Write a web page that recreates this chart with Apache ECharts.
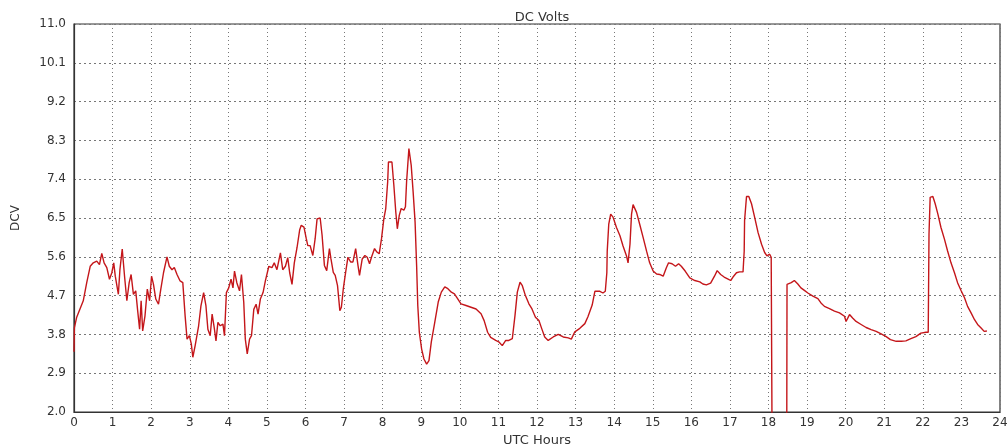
<!DOCTYPE html>
<html>
<head>
<meta charset="utf-8">
<script src="https://cdn.jsdelivr.net/npm/echarts@6/dist/echarts.min.js"></script>
<style>
html,body{margin:0;padding:0;background:#fff;}
#chart{width:1008px;height:448px;}
</style>
</head>
<body>
<div id="chart"></div>
<script>
// UTC hour of each reading
const hours = [
  0.00,0.01,0.07,0.24,0.33,0.42,0.50,0.59,0.66,0.72,0.78,0.85,0.92,0.98,1.03,1.07,1.15,1.19,1.25,1.31,
  1.37,1.43,1.48,1.54,1.60,1.65,1.70,1.74,1.78,1.84,1.90,1.96,2.01,2.06,2.12,2.19,2.25,2.32,2.41,2.47,
  2.54,2.60,2.67,2.75,2.82,2.88,2.93,2.99,3.04,3.08,3.14,3.23,3.29,3.36,3.42,3.47,3.53,3.58,3.64,3.68,
  3.73,3.79,3.86,3.90,3.95,4.01,4.07,4.12,4.16,4.22,4.29,4.34,4.40,4.44,4.49,4.55,4.60,4.66,4.72,4.77,
  4.83,4.90,4.96,5.05,5.13,5.19,5.26,5.35,5.41,5.48,5.54,5.59,5.65,5.71,5.78,5.85,5.89,5.96,6.02,6.06,
  6.12,6.19,6.25,6.30,6.38,6.43,6.49,6.55,6.62,6.66,6.72,6.77,6.83,6.89,6.93,6.98,7.04,7.10,7.17,7.23,
  7.30,7.36,7.40,7.47,7.54,7.60,7.66,7.71,7.79,7.85,7.91,7.97,8.03,8.08,8.13,8.15,8.24,8.29,8.34,8.38,
  8.43,8.48,8.55,8.59,8.62,8.68,8.74,8.79,8.84,8.88,8.91,8.95,9.01,9.07,9.14,9.20,9.26,9.35,9.44,9.52,
  9.61,9.69,9.78,9.86,9.95,10.03,10.16,10.29,10.42,10.55,10.63,10.72,10.80,10.93,11.02,11.10,11.19,11.27,11.36,11.43,
  11.49,11.56,11.62,11.70,11.79,11.87,11.96,12.05,12.12,12.20,12.29,12.42,12.55,12.68,12.81,12.89,12.98,13.11,13.24,13.32,
  13.37,13.43,13.50,13.63,13.71,13.77,13.81,13.82,13.86,13.91,13.97,14.06,14.15,14.23,14.32,14.36,14.41,14.45,14.49,14.58,
  14.66,14.75,14.84,14.92,15.01,15.10,15.18,15.27,15.35,15.41,15.50,15.59,15.67,15.74,15.84,15.96,16.09,16.22,16.30,16.39,
  16.50,16.60,16.67,16.76,16.85,16.94,17.02,17.08,17.17,17.25,17.34,17.37,17.38,17.43,17.49,17.56,17.64,17.73,17.82,17.90,
  17.96,18.03,18.07,18.09,18.10,18.47,18.48,18.59,18.67,18.76,18.84,18.93,19.02,19.15,19.28,19.36,19.45,19.58,19.71,19.84,
  19.97,20.01,20.10,20.18,20.27,20.40,20.53,20.66,20.79,20.92,21.05,21.16,21.31,21.44,21.56,21.69,21.82,21.95,22.08,22.14,
  22.16,22.19,22.26,22.32,22.39,22.47,22.56,22.64,22.73,22.82,22.90,22.99,23.08,23.16,23.25,23.34,23.42,23.51,23.59,23.66
];
// DC volts at each reading
const volts = [
  3.40,3.95,4.20,4.58,5.00,5.38,5.46,5.50,5.42,5.68,5.46,5.35,5.08,5.23,5.46,5.15,4.73,5.30,5.78,5.15,
  4.58,5.00,5.19,4.73,4.81,4.35,3.92,4.58,3.88,4.23,4.85,4.58,5.15,4.96,4.62,4.50,4.85,5.23,5.60,5.38,
  5.30,5.35,5.19,5.04,5.00,4.23,3.69,3.77,3.58,3.27,3.54,4.00,4.46,4.77,4.46,3.92,3.77,4.27,3.92,3.65,
  4.08,4.00,4.04,3.77,4.77,4.88,5.08,4.88,5.27,5.00,4.81,5.19,4.54,3.69,3.35,3.69,3.77,4.38,4.50,4.27,
  4.62,4.77,5.04,5.38,5.35,5.46,5.30,5.69,5.30,5.38,5.58,5.23,4.96,5.46,5.81,6.23,6.33,6.29,6.02,5.86,
  5.86,5.63,6.02,6.48,6.50,6.10,5.40,5.28,5.79,5.55,5.24,5.17,4.93,4.35,4.43,4.86,5.24,5.59,5.48,5.48,
  5.79,5.40,5.17,5.55,5.63,5.59,5.44,5.59,5.79,5.71,5.67,6.02,6.48,6.72,7.34,7.80,7.80,7.26,6.64,6.25,
  6.56,6.72,6.68,6.76,7.34,8.11,7.72,7.10,6.41,5.40,4.47,3.85,3.46,3.23,3.11,3.19,3.62,4.08,4.55,4.78,
  4.90,4.86,4.78,4.74,4.62,4.51,4.47,4.43,4.39,4.28,4.12,3.85,3.73,3.66,3.62,3.54,3.66,3.66,3.70,4.24,
  4.78,5.01,4.93,4.70,4.51,4.39,4.20,4.12,3.94,3.74,3.66,3.74,3.80,3.74,3.72,3.69,3.86,3.94,4.05,4.21,
  4.17,4.48,4.80,4.80,4.76,4.80,5.23,5.73,6.36,6.59,6.52,6.28,6.09,5.85,5.62,5.46,5.89,6.59,6.81,6.63,
  6.36,6.05,5.73,5.46,5.27,5.20,5.19,5.15,5.34,5.46,5.44,5.38,5.44,5.38,5.27,5.11,5.05,5.02,4.97,4.95,
  4.99,5.15,5.28,5.19,5.13,5.09,5.05,5.13,5.23,5.25,5.25,5.73,6.44,7.00,7.00,6.83,6.52,6.16,5.89,5.70,
  5.62,5.66,5.59,5.62,0.00,0.00,4.96,5.00,5.05,4.97,4.88,4.82,4.76,4.69,4.63,4.53,4.45,4.40,4.34,4.30,
  4.22,4.10,4.26,4.18,4.10,4.03,3.96,3.91,3.87,3.81,3.75,3.68,3.64,3.64,3.65,3.70,3.75,3.83,3.85,3.85,
  6.13,6.98,7.00,6.83,6.59,6.28,6.01,5.74,5.46,5.23,5.00,4.82,4.65,4.45,4.30,4.14,4.03,3.95,3.87,3.88
];
const titleText = 'DC Volts';
const xName = 'UTC Hours';
const yName = 'DCV';

const seriesData = hours.map((h, i) => [h, volts[i]]);
const font = 'DejaVu Sans';

const chart = echarts.init(document.getElementById('chart'));
chart.setOption({
  animation: false,
  backgroundColor: '#fff',
  title: {
    text: titleText, left: 537, top: 6, textAlign: 'center',
    textStyle: { fontFamily: font, fontSize: 13, fontWeight: 'normal', color: '#333' }
  },
  grid: {
    left: 74, right: 8, top: 24, bottom: 36, containLabel: false, outerBoundsMode: 'none',
    show: true, borderColor: '#333', borderWidth: 1.2, backgroundColor: 'transparent'
  },
  xAxis: {
    type: 'value', min: 0, max: 24, interval: 1,
    name: xName, nameLocation: 'middle', nameGap: 22,
    nameTextStyle: { fontFamily: font, fontSize: 13, color: '#333' },
    axisLine: { show: true, lineStyle: { color: '#333', width: 1.2 } },
    axisTick: { show: false },
    axisLabel: { fontFamily: font, fontSize: 12, color: '#333', margin: 5 },
    splitLine: { show: true, lineStyle: { type: [1, 3], color: '#777', width: 1 } }
  },
  yAxis: {
    type: 'value', min: 2.0, max: 11.0, interval: 0.9,
    name: yName, nameLocation: 'middle', nameGap: 52, nameRotate: 90,
    nameTextStyle: { fontFamily: font, fontSize: 12, color: '#333' },
    axisLine: { show: true, lineStyle: { color: '#333', width: 1.2 } },
    axisTick: { show: false },
    axisLabel: { fontFamily: font, fontSize: 12, color: '#333', margin: 8, formatter: v => v.toFixed(1) },
    splitLine: { show: true, lineStyle: { type: [2, 3], color: '#777', width: 1 } }
  },
  series: [{
    type: 'line', data: seriesData, showSymbol: false, symbol: 'none',
    lineStyle: { color: '#c4161a', width: 1.4 }, clip: true
  }]
});
</script>
</body>
</html>
